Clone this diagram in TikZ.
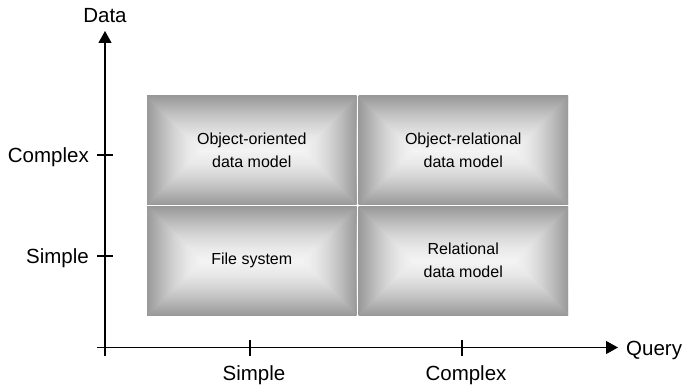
\documentclass[tikz,border=0pt]{standalone}
\usepackage{fontspec}
\setmainfont{Liberation Sans}
\usetikzlibrary{arrows.meta}

% grey tones of the panels, from edge to centre
\definecolor{pnA}{gray}{0.60}
\definecolor{pnB}{gray}{0.72}
\definecolor{pnC}{gray}{0.83}
\definecolor{pnD}{gray}{0.91}
\definecolor{pnE}{gray}{0.955}

% dark at top and bottom edges, light along the middle
\pgfdeclareverticalshading{panelv}{100bp}{%
  color(0bp)=(pnA); color(25bp)=(pnA); color(31.25bp)=(pnB);
  color(37.5bp)=(pnC); color(43.75bp)=(pnD); color(50bp)=(pnE);
  color(56.25bp)=(pnD); color(62.5bp)=(pnC); color(68.75bp)=(pnB);
  color(75bp)=(pnA); color(100bp)=(pnA)}
% dark at the left edge, light towards the centre
\pgfdeclarehorizontalshading{panelleft}{100bp}{%
  color(0bp)=(pnA); color(25bp)=(pnA); color(37.5bp)=(pnB);
  color(50bp)=(pnC); color(62.5bp)=(pnD); color(75bp)=(pnE);
  color(100bp)=(pnE)}
% dark at the right edge, light towards the centre
\pgfdeclarehorizontalshading{panelright}{100bp}{%
  color(0bp)=(pnE); color(25bp)=(pnE); color(37.5bp)=(pnD);
  color(50bp)=(pnC); color(62.5bp)=(pnB); color(75bp)=(pnA);
  color(100bp)=(pnA)}

% a shaded panel with its centred label: name, x0, y0, x1, y1, text
\newcommand\shadedpanel[6]{%
  \pgfmathsetmacro\panelhh{(#5-#3)/2}%
  \pgfmathsetmacro\panelyc{(#3+#5)/2}%
  \pgfmathsetmacro\panelxc{(#2+#4)/2}%
  \shade[shading=panelv] (#2,#3) rectangle (#4,#5);
  \shade[shading=panelleft] (#2,#3) -- (#2,#5) -- ({#2+\panelhh},\panelyc) -- cycle;
  \shade[shading=panelright] (#4,#3) -- (#4,#5) -- ({#4-\panelhh},\panelyc) -- cycle;
  \node[paneltext] (#1) at (\panelxc,\panelyc) {#6};
}

\tikzset{
  paneltext/.style={align=center, inner sep=0pt,
    font=\fontsize{16}{23}\selectfont},
  axislabel/.style={inner sep=0pt, font=\fontsize{20.5}{24}\selectfont},
  axisline/.style={line width=1.2pt, -{Triangle[length=12pt,width=13pt]}},
  tickline/.style={line width=1.1pt}
}

\begin{document}
\begin{tikzpicture}[x=1pt,y=-1pt]
  \useasboundingbox (0,0) rectangle (684,387);

  % the four panels
  \shadedpanel{oo}{147}{96}{356.5}{204.5}{Object-oriented\\data model}
  \shadedpanel{or}{358.5}{96}{568}{204.5}{Object-relational\\data model}
  \shadedpanel{fs}{147}{206.5}{356.5}{315}{File system}
  \shadedpanel{rel}{358.5}{206.5}{568}{315}{Relational\\data model}

  % axes
  \coordinate (xstart) at (97,347.5);
  \coordinate (xend) at (618,347.5);
  \coordinate (ystart) at (105,355.5);
  \coordinate (yend) at (105,31);
  \draw[axisline] (xstart) -- (xend);
  \draw[axisline] (ystart) -- (yend);

  % ticks on the query axis
  \coordinate (qs1) at (250,339.5);  \coordinate (qs2) at (250,355.5);
  \coordinate (qc1) at (462,339.5);  \coordinate (qc2) at (462,355.5);
  \draw[tickline] (qs1) -- (qs2);
  \draw[tickline] (qc1) -- (qc2);

  % ticks on the data axis
  \coordinate (dc1) at (97,155);   \coordinate (dc2) at (113,155);
  \coordinate (ds1) at (97,256);   \coordinate (ds2) at (113,256);
  \draw[tickline] (dc1) -- (dc2);
  \draw[tickline] (ds1) -- (ds2);

  % labels
  \node[axislabel, anchor=base] (datalbl) at (105,23) {Data};
  \node[axislabel, anchor=base west] (querylbl) at (626,355) {Query};
  \node[axislabel, anchor=base east] (dcomplex) at (89,162.4) {Complex};
  \node[axislabel, anchor=base east] (dsimple) at (89,263.4) {Simple};
  \node[axislabel, anchor=base] (qsimple) at (254,380) {Simple};
  \node[axislabel, anchor=base] (qcomplex) at (466,380) {Complex};
\end{tikzpicture}
\end{document}
